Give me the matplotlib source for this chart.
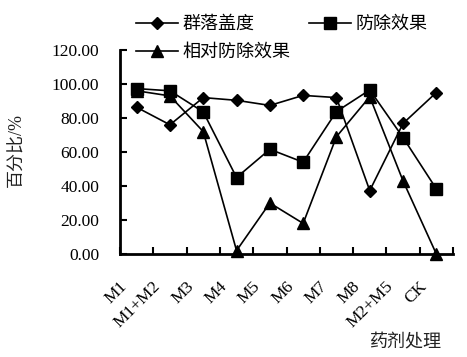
import matplotlib
matplotlib.use("Agg")
import matplotlib.pyplot as plt
from matplotlib.transforms import ScaledTranslation

plt.rcParams['font.family'] = ['Liberation Serif', 'Noto Sans CJK SC']

categories = ["M1", "M1+M2", "M3", "M4", "M5", "M6", "M7", "M8", "M2+M5", "CK"]
cover = [86.3, 76.0, 92.0, 90.4, 87.4, 93.3, 92.0, 37.3, 76.8, 95.0]
control = [97.3, 96.0, 83.6, 45.0, 61.6, 54.0, 83.8, 96.5, 68.5, 38.3]
relative = [96.0, 93.0, 72.0, 2.0, 30.0, 18.0, 69.0, 92.5, 43.0, 0.0]
series_names = ["群落盖度", "防除效果", "相对防除效果"]
yticks = [0, 20, 40, 60, 80, 100, 120]

fig = plt.figure(figsize=(4.67, 3.57), dpi=100)
ax = fig.add_axes([120/467, 1-254/357, 333/467, 204/357])

x = list(range(len(categories)))
l1, = ax.plot(x, cover, color='black', lw=1.2, marker='D', ms=6, clip_on=False, label=series_names[0])
l2, = ax.plot(x, control, color='black', lw=1.2, marker='s', ms=9, clip_on=False, label=series_names[1])
l3, = ax.plot(x, relative, color='black', lw=1.2, marker='^', ms=8, clip_on=False, label=series_names[2])

ax.set_xlim(-0.5, len(categories) - 0.5)
ax.set_ylim(0, 120)
ax.set_yticks(yticks)
ax.set_yticklabels([f"{v:.2f}" for v in yticks], fontsize=12.5)
ax.tick_params(axis='y', direction='in', length=5, width=1.5, pad=15)

ax.set_xticks([i - 0.5 for i in range(len(categories) + 1)])
ax.set_xticklabels([])
ax.tick_params(axis='x', direction='in', length=5, width=1.5)

lab_tr = ax.transData + ScaledTranslation(-12.6/72, -17.3/72, fig.dpi_scale_trans)
for i, c in enumerate(categories):
    ax.text(i, 0, c, fontsize=12.5, rotation=45, ha='right', va='top',
            rotation_mode='anchor', transform=lab_tr)

for s in ['top', 'right']:
    ax.spines[s].set_visible(False)
for s in ['left', 'bottom']:
    ax.spines[s].set_linewidth(2)

fig.text(17/467, 1-150/357, "百分比/%", rotation=90, ha='center', va='center', fontsize=13, color='#222222')
fig.text(406/467, 1-343/357, "药剂处理", ha='center', va='center', fontsize=13, color='#222222')

fig.legend(handles=[l1, l3, l2], loc='upper left', bbox_to_anchor=(136/467, 1-16/357),
           ncol=2, frameon=False, fontsize=13, handlelength=2.3, handletextpad=0.3,
           columnspacing=1.0, labelspacing=0.6, borderpad=0, borderaxespad=0)

fig.savefig("out.png", dpi=100)
